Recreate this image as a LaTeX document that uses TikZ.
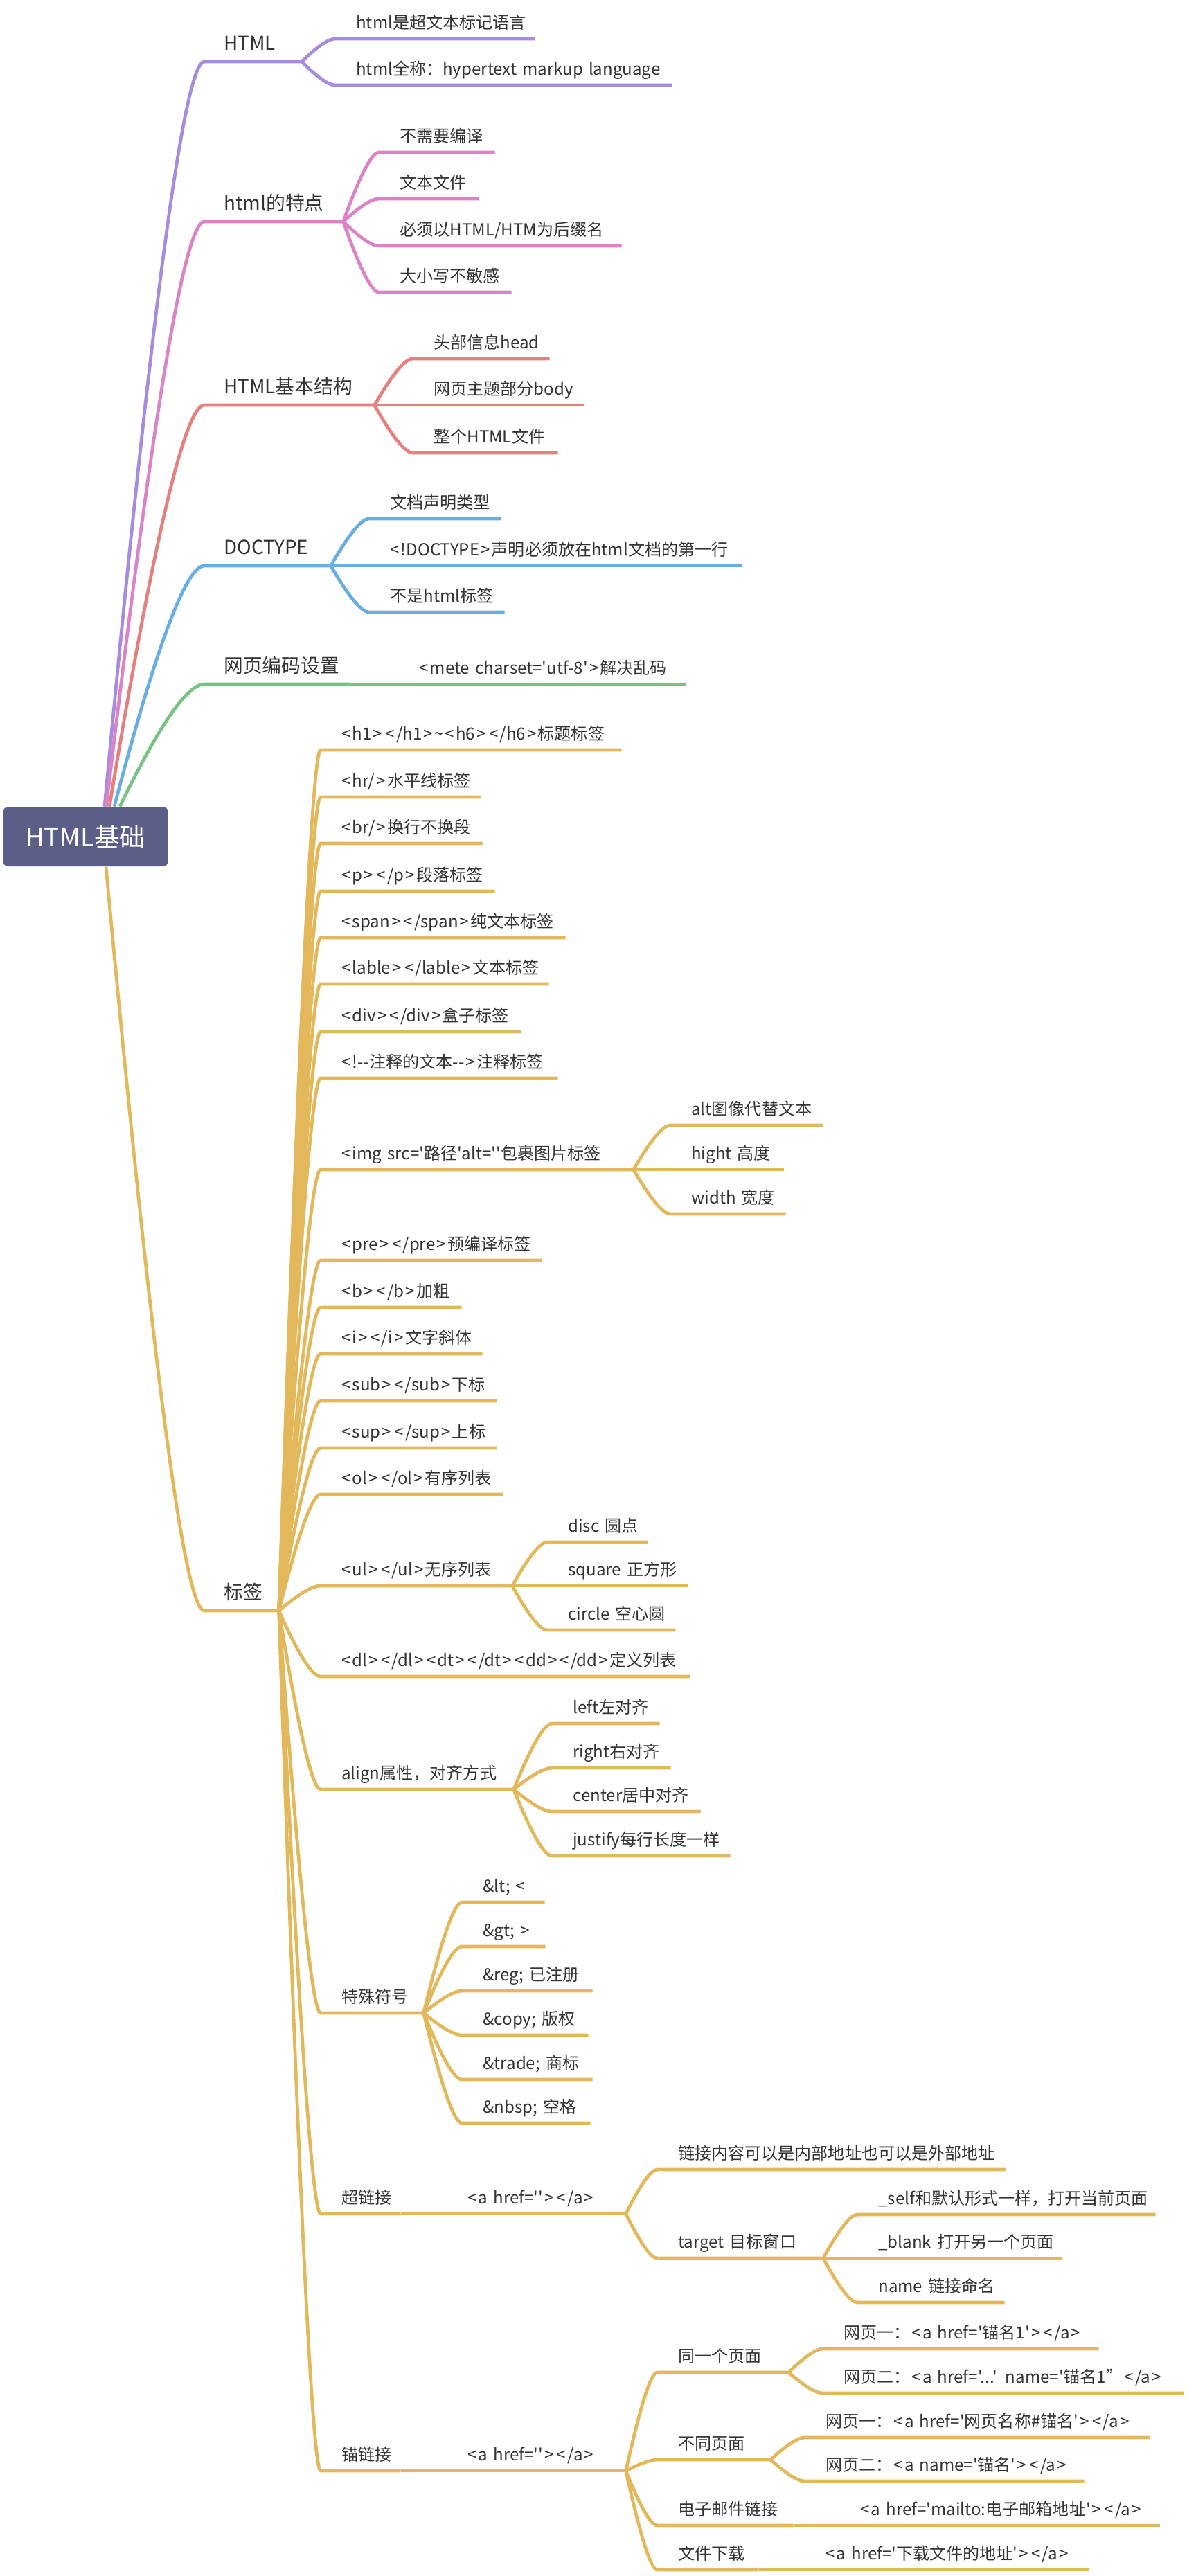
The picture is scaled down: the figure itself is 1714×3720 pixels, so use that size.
\documentclass[tikz,border=0pt]{standalone}
\usepackage{fontspec}
\setmainfont{Noto Sans CJK SC}[Ligatures=TeXOff]
\usetikzlibrary{calc}
\definecolor{rootc}{HTML}{5B5F87}
\definecolor{txtc}{HTML}{333333}
\definecolor{htmlc}{HTML}{A68BDF}
\definecolor{featc}{HTML}{DC83C8}
\definecolor{structc}{HTML}{E5807D}
\definecolor{docc}{HTML}{66AEE5}
\definecolor{encc}{HTML}{78C283}
\definecolor{tagc}{HTML}{E2B85B}
\XeTeXinterchartokenstate=1
\newXeTeXintercharclass\brclass
\XeTeXcharclass`\<=\brclass
\XeTeXcharclass`\>=\brclass
\XeTeXinterchartoks 0 \brclass={\kern0.09em}
\XeTeXinterchartoks 1 \brclass={\kern0.09em}
\XeTeXinterchartoks 2 \brclass={\kern0.09em}
\XeTeXinterchartoks 3 \brclass={\kern0.09em}
\XeTeXinterchartoks \brclass 0={\kern0.09em}
\XeTeXinterchartoks \brclass 1={\kern0.09em}
\XeTeXinterchartoks \brclass 2={\kern0.09em}
\XeTeXinterchartoks \brclass 3={\kern0.09em}
\XeTeXinterchartoks \brclass \brclass={\kern0.18em}

\begin{document}
\begin{tikzpicture}[x=0.02cm, y=-0.02cm, every node/.style={text=txtc},
  root/.style={fill=rootc, rounded corners=0.16cm, minimum width=4.78cm, minimum height=1.72cm, text=white, font=\fontsize{21}{25}\selectfont},
  main/.style={anchor=south west, inner xsep=0.56cm, inner ysep=0.21cm, text depth=0.12cm, text width={(#1-56)*0.02cm}, font=\fontsize{15.8}{19}\selectfont, execute at begin node=\hbox\bgroup, execute at end node=\egroup},
  sub/.style={anchor=south west, inner xsep=0.6cm, inner ysep=0.16cm, text depth=0.12cm, text width={(#1-60)*0.02cm}, font=\fontsize{13.7}{16}\selectfont, execute at begin node=\hbox\bgroup, execute at end node=\egroup},
  link/.style={draw=#1, line width=0.095cm, to path={let \p1=(\tikztostart), \p2=(\tikztotarget) in .. controls ({\x1+0.47*(\x2-\x1)},{\y1+0.67*(\y2-\y1)}) and ({\x1+0.8*(\x2-\x1)},\y2) .. (\tikztotarget)}}]
\useasboundingbox (0,0) rectangle (1714,3720);
\node[root] (root) at (123.5,1208) {HTML基础};

\node[main=140] (html) at (295,89) {HTML};
\node[sub=288] (hdef) at (484,56) {html是超文本标记语言};
\node[sub=486] (hname) at (484,123) {html全称：hypertext markup language};

\node[main=200] (feat) at (295,320) {html的特点};
\node[sub=167] (f1) at (547,220) {不需要编译};
\node[sub=144] (f2) at (547,287) {文本文件};
\node[sub=350] (f3) at (547,355) {必须以HTML/HTM为后缀名};
\node[sub=191] (f4) at (547,422) {大小写不敏感};

\node[main=245] (struct) at (295,585) {HTML基本结构};
\node[sub=197] (st1) at (596,518) {头部信息head};
\node[sub=246] (st2) at (596,585) {网页主题部分body};
\node[sub=209] (st3) at (596,654) {整个HTML文件};

\node[main=182] (doctype) at (295,817) {DOCTYPE};
\node[sub=190] (dc1) at (533,749) {文档声明类型};
\node[sub=537] (dc2) at (533,817) {<!DOCTYPE>声明必须放在html文档的第一行};
\node[sub=195] (dc3) at (533,884) {不是html标签};

\node[main=210] (enc) at (295,988) {网页编码设置};
\node[sub=415] (en1) at (575,988) {<mete charset='utf-8'>解决乱码};

\node[main=107] (tags) at (295,2326) {标签};
\node[sub=434] (t1) at (463,1083) {<h1></h1>\textasciitilde<h6></h6>标题标签};
\node[sub=231] (t2) at (463,1151) {<hr/>水平线标签};
\node[sub=233] (t3) at (463,1218) {<br/>换行不换段};
\node[sub=251] (t4) at (463,1287) {<p></p>段落标签};
\node[sub=353] (t5) at (463,1354) {<span></span>纯文本标签};
\node[sub=329] (t6) at (463,1421) {<lable></lable>文本标签};
\node[sub=289] (t7) at (463,1490) {<div></div>盒子标签};
\node[sub=342] (t8) at (463,1557) {<!--注释的文本-->注释标签};
\node[sub=451] (t9) at (463,1689) {<img src='路径'alt=''包裹图片标签};
\node[sub=220] (im1) at (968,1625) {alt图像代替文本};
\node[sub=163] (im2) at (968,1689) {hight 高度};
\node[sub=166] (im3) at (968,1753) {width 宽度};
\node[sub=319] (t10) at (463,1820) {<pre></pre>预编译标签};
\node[sub=203] (t11) at (463,1888) {<b></b>加粗};
\node[sub=233] (t12) at (463,1955) {<i></i>文字斜体};
\node[sub=254] (t13) at (463,2023) {<sub></sub>下标};
\node[sub=254] (t14) at (463,2091) {<sup></sup>上标};
\node[sub=263] (t15) at (463,2158) {<ol></ol>有序列表};
\node[sub=276] (t16) at (463,2290) {<ul></ul>无序列表};
\node[sub=145] (ul1) at (790,2227) {disc 圆点};
\node[sub=202] (ul2) at (790,2290) {square 正方形};
\node[sub=185] (ul3) at (790,2354) {circle 空心圆};
\node[sub=533] (t17) at (463,2421) {<dl></dl><dt></dt><dd></dd>定义列表};
\node[sub=278] (t18) at (463,2584) {align属性，对齐方式};
\node[sub=155] (al1) at (797,2489) {left左对齐};
\node[sub=171] (al2) at (797,2553) {right右对齐};
\node[sub=214] (al3) at (797,2616) {center居中对齐};
\node[sub=257] (al4) at (797,2680) {justify每行长度一样};
\node[sub=148] (t19) at (463,2907) {特殊符号};
\node[sub=119] (sp1) at (667,2747) {\&lt; <};
\node[sub=120] (sp2) at (667,2811) {\&gt; >};
\node[sub=188] (sp3) at (667,2875) {\&reg; 已注册};
\node[sub=182] (sp4) at (667,2939) {\&copy; 版权};
\node[sub=188] (sp5) at (667,3003) {\&trade; 商标};
\node[sub=185] (sp6) at (667,3066) {\&nbsp; 空格};
\node[sub=115] (t20) at (463,3197) {超链接};
\node[sub=258] (hl0) at (645,3197) {<a href=''></a>};
\node[sub=503] (hl1) at (949,3133) {链接内容可以是内部地址也可以是外部地址};
\node[sub=239] (hl2) at (949,3261) {target 目标窗口};
\node[sub=430] (tg1) at (1238,3198) {\_self和默认形式一样，打开当前页面};
\node[sub=294] (tg2) at (1238,3261) {\_blank 打开另一个页面};
\node[sub=212] (tg3) at (1238,3325) {name 链接命名};
\node[sub=115] (t21) at (463,3568) {锚链接};
\node[sub=258] (an0) at (645,3568) {<a href=''></a>};
\node[sub=189] (an1) at (949,3426) {同一个页面};
\node[sub=398] (same1) at (1188,3392) {网页一：<a href='锚名1'></a>};
\node[sub=521] (same2) at (1188,3456) {网页二：<a href='...' name='锚名1”</a>};
\node[sub=163] (an2) at (949,3552) {不同页面};
\node[sub=498] (diff1) at (1162,3520) {网页一：<a href='网页名称\#锚名'></a>};
\node[sub=403] (diff2) at (1162,3583) {网页二：<a name='锚名'></a>};
\node[sub=196] (an3) at (949,3647) {电子邮件链接};
\node[sub=462] (mail1) at (1212,3647) {<a href='mailto:电子邮箱地址'></a>};
\node[sub=146] (an4) at (949,3711) {文件下载};
\node[sub=410] (down1) at (1162,3711) {<a href='下载文件的地址'></a>};

\draw[link=htmlc] ([xshift=0.55cm]root.north) to (html.south west) -- (html.south east);
\draw[link=htmlc] (html.south east) to (hdef.south west) -- (hdef.south east);
\draw[link=htmlc] (html.south east) to (hname.south west) -- (hname.south east);

\draw[link=featc] ([xshift=0.6cm]root.north) to (feat.south west) -- (feat.south east);
\draw[link=featc] (feat.south east) to (f1.south west) -- (f1.south east);
\draw[link=featc] (feat.south east) to (f2.south west) -- (f2.south east);
\draw[link=featc] (feat.south east) to (f3.south west) -- (f3.south east);
\draw[link=featc] (feat.south east) to (f4.south west) -- (f4.south east);

\draw[link=structc] ([xshift=0.69cm]root.north) to (struct.south west) -- (struct.south east);
\draw[link=structc] (struct.south east) to (st1.south west) -- (st1.south east);
\draw[link=structc] (struct.south east) to (st2.south west) -- (st2.south east);
\draw[link=structc] (struct.south east) to (st3.south west) -- (st3.south east);

\draw[link=docc] ([xshift=0.83cm]root.north) to (doctype.south west) -- (doctype.south east);
\draw[link=docc] (doctype.south east) to (dc1.south west) -- (dc1.south east);
\draw[link=docc] (doctype.south east) to (dc2.south west) -- (dc2.south east);
\draw[link=docc] (doctype.south east) to (dc3.south west) -- (dc3.south east);

\draw[link=encc] ([xshift=0.99cm]root.north) to (enc.south west) -- (enc.south east);
\draw[link=encc] (enc.south east) to (en1.south west) -- (en1.south east);

\draw[link=tagc] ([xshift=0.59cm]root.south) to (tags.south west) -- (tags.south east);
\draw[link=tagc] (tags.south east) to (t1.south west) -- (t1.south east);
\draw[link=tagc] (tags.south east) to (t2.south west) -- (t2.south east);
\draw[link=tagc] (tags.south east) to (t3.south west) -- (t3.south east);
\draw[link=tagc] (tags.south east) to (t4.south west) -- (t4.south east);
\draw[link=tagc] (tags.south east) to (t5.south west) -- (t5.south east);
\draw[link=tagc] (tags.south east) to (t6.south west) -- (t6.south east);
\draw[link=tagc] (tags.south east) to (t7.south west) -- (t7.south east);
\draw[link=tagc] (tags.south east) to (t8.south west) -- (t8.south east);
\draw[link=tagc] (tags.south east) to (t9.south west) -- (t9.south east);
\draw[link=tagc] (t9.south east) to (im1.south west) -- (im1.south east);
\draw[link=tagc] (t9.south east) to (im2.south west) -- (im2.south east);
\draw[link=tagc] (t9.south east) to (im3.south west) -- (im3.south east);
\draw[link=tagc] (tags.south east) to (t10.south west) -- (t10.south east);
\draw[link=tagc] (tags.south east) to (t11.south west) -- (t11.south east);
\draw[link=tagc] (tags.south east) to (t12.south west) -- (t12.south east);
\draw[link=tagc] (tags.south east) to (t13.south west) -- (t13.south east);
\draw[link=tagc] (tags.south east) to (t14.south west) -- (t14.south east);
\draw[link=tagc] (tags.south east) to (t15.south west) -- (t15.south east);
\draw[link=tagc] (tags.south east) to (t16.south west) -- (t16.south east);
\draw[link=tagc] (t16.south east) to (ul1.south west) -- (ul1.south east);
\draw[link=tagc] (t16.south east) to (ul2.south west) -- (ul2.south east);
\draw[link=tagc] (t16.south east) to (ul3.south west) -- (ul3.south east);
\draw[link=tagc] (tags.south east) to (t17.south west) -- (t17.south east);
\draw[link=tagc] (tags.south east) to (t18.south west) -- (t18.south east);
\draw[link=tagc] (t18.south east) to (al1.south west) -- (al1.south east);
\draw[link=tagc] (t18.south east) to (al2.south west) -- (al2.south east);
\draw[link=tagc] (t18.south east) to (al3.south west) -- (al3.south east);
\draw[link=tagc] (t18.south east) to (al4.south west) -- (al4.south east);
\draw[link=tagc] (tags.south east) to (t19.south west) -- (t19.south east);
\draw[link=tagc] (t19.south east) to (sp1.south west) -- (sp1.south east);
\draw[link=tagc] (t19.south east) to (sp2.south west) -- (sp2.south east);
\draw[link=tagc] (t19.south east) to (sp3.south west) -- (sp3.south east);
\draw[link=tagc] (t19.south east) to (sp4.south west) -- (sp4.south east);
\draw[link=tagc] (t19.south east) to (sp5.south west) -- (sp5.south east);
\draw[link=tagc] (t19.south east) to (sp6.south west) -- (sp6.south east);
\draw[link=tagc] (tags.south east) to (t20.south west) -- (t20.south east);
\draw[link=tagc] (t20.south east) to (hl0.south west) -- (hl0.south east);
\draw[link=tagc] (hl0.south east) to (hl1.south west) -- (hl1.south east);
\draw[link=tagc] (hl0.south east) to (hl2.south west) -- (hl2.south east);
\draw[link=tagc] (hl2.south east) to (tg1.south west) -- (tg1.south east);
\draw[link=tagc] (hl2.south east) to (tg2.south west) -- (tg2.south east);
\draw[link=tagc] (hl2.south east) to (tg3.south west) -- (tg3.south east);
\draw[link=tagc] (tags.south east) to (t21.south west) -- (t21.south east);
\draw[link=tagc] (t21.south east) to (an0.south west) -- (an0.south east);
\draw[link=tagc] (an0.south east) to (an1.south west) -- (an1.south east);
\draw[link=tagc] (an1.south east) to (same1.south west) -- (same1.south east);
\draw[link=tagc] (an1.south east) to (same2.south west) -- (same2.south east);
\draw[link=tagc] (an0.south east) to (an2.south west) -- (an2.south east);
\draw[link=tagc] (an2.south east) to (diff1.south west) -- (diff1.south east);
\draw[link=tagc] (an2.south east) to (diff2.south west) -- (diff2.south east);
\draw[link=tagc] (an0.south east) to (an3.south west) -- (an3.south east);
\draw[link=tagc] (an3.south east) to (mail1.south west) -- (mail1.south east);
\draw[link=tagc] (an0.south east) to (an4.south west) -- (an4.south east);
\draw[link=tagc] (an4.south east) to (down1.south west) -- (down1.south east);
\end{tikzpicture}
\end{document}
